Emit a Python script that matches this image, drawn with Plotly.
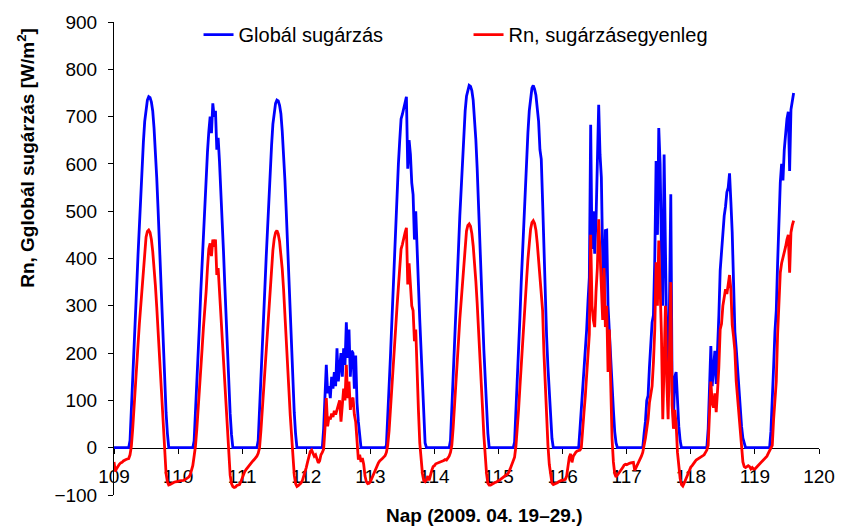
import plotly.graph_objects as go

# ---- data (half-hourly samples, 48 per day) ----
STEPS_PER_DAY = 48
days = [109, 110, 111, 112, 113, 114, 115, 116, 117, 118, 119]

glob_109 = [0]*12 + [15, 74, 141, 200, 267, 341, 408, 475, 534, 594, 646, 690, 720, 735, 742, 740,
                     731, 712, 675, 631, 571, 505, 430, 356, 275, 200, 134, 74, 30, 0] + [0]*6
rn_109 = [-30, -50, -44, -38, -35, -32, -31, -28, -26, -25, -24, -23, -15, 3, 40, 80, 125, 172, 218, 262,
          302, 342, 385, 420, 445, 457, 460, 455, 440, 415, 383, 343, 298, 248, 195, 140, 82, 25, -20, -55,
          -72, -79, -78, -76, -74, -73, -72, -72]

glob_110 = [0]*12 + [14, 70, 135, 195, 260, 330, 395, 460, 520, 575, 625, 668, 700, 665, 728, 700,
                     712, 630, 655, 605, 550, 485, 415, 343, 265, 193, 129, 72, 28, 0] + [0]*6
rn_110 = [-71, -70, -70, -69, -69, -68, -66, -64, -62, -58, -50, -38, -18, 3, 38, 76, 120, 165, 210, 255,
          290, 330, 380, 420, 432, 405, 440, 425, 440, 365, 380, 330, 285, 238, 188, 135, 78, 22, -22, -58,
          -76, -82, -84, -83, -80, -79, -78, -72]

glob_111 = [0]*12 + [15, 74, 140, 198, 265, 338, 404, 470, 529, 588, 639, 684, 713, 728, 735, 733,
                     724, 706, 669, 625, 566, 500, 426, 353, 272, 198, 132, 74, 29, 0] + [0]*6
rn_111 = [-64, -56, -50, -46, -42, -38, -35, -32, -28, -25, -22, -18, -12, 0, 35, 76, 122, 170, 215, 260,
          300, 340, 382, 417, 442, 455, 459, 452, 436, 410, 378, 335, 288, 235, 180, 122, 68, 18, -25, -58,
          -76, -82, -80, -78, -75, -70, -62, -52]

glob_112 = [0]*12 + [0, 40, 110, 175, 115, 130, 105, 150, 125, 160, 130, 210, 140, 165, 200, 150,
                     210, 175, 265, 190, 250, 150, 205, 200, 125, 195, 95, 55, 20, 0] + [0]*6
rn_112 = [-42, -30, -18, -8, -5, -10, -18, -15, -25, -32, -28, -15, -10, -3, 40, 105, 45, 65, 60, 72,
          65, 78, 70, 82, 88, 100, 55, 95, 125, 100, 175, 105, 140, 80, 100, 106, 70, 55, 15, -25,
          -15, -30, -22, -35, -60, -72, -76, -75]

glob_113 = [0]*12 + [5, 60, 125, 190, 260, 335, 410, 470, 540, 600, 650, 695, 705, 720, 735, 742,
                     590, 650, 620, 560, 535, 440, 500, 400, 345, 270, 210, 140, 70, 10] + [0]*6
rn_113 = [-72, -65, -58, -52, -45, -38, -32, -28, -26, -23, -20, -17, -10, 5, 35, 75, 120, 165, 210, 255,
          300, 345, 390, 420, 430, 445, 455, 465, 345, 390, 350, 300, 290, 225, 250, 150, 80, 10, -30, -55,
          -70, -72, -68, -60, -69, -55, -48, -40]

glob_114 = [0]*12 + [15, 77, 146, 207, 276, 352, 421, 490, 552, 613, 666, 712, 743, 758, 766, 764,
                     755, 735, 697, 651, 590, 521, 444, 368, 283, 207, 138, 77, 31, 0] + [0]*6
rn_114 = [-38, -34, -33, -32, -31, -30, -28, -27, -25, -26, -22, -18, -10, 5, 42, 82, 128, 178, 225, 272,
          312, 352, 397, 433, 458, 470, 473, 468, 453, 427, 394, 352, 305, 255, 200, 143, 84, 26, -20, -55,
          -75, -79, -79, -77, -75, -74, -73, -72]

glob_115 = [0]*12 + [12, 70, 140, 205, 275, 350, 420, 490, 552, 613, 666, 712, 745, 760, 766, 758,
                     745, 720, 690, 630, 610, 520, 420, 310, 235, 170, 110, 60, 20, 0] + [0]*6
rn_115 = [-70, -68, -66, -64, -62, -60, -58, -55, -50, -42, -37, -30, -20, 3, 38, 80, 128, 178, 225, 272,
          315, 355, 398, 435, 462, 476, 480, 474, 460, 432, 400, 355, 340, 290, 200, 120, 60, 5, -35, -62,
          -75, -78, -77, -75, -74, -72, -70, -69]

glob_116 = [0]*12 + [0, 40, 80, 120, 152, 190, 250, 310, 360, 683, 420, 500, 410, 480, 600, 725,
                     620, 571, 400, 310, 459, 460, 300, 240, 175, 120, 80, 34, 10, 0] + [0]*6
rn_116 = [-69, -68, -67, -60, -40, -20, -13, -31, -18, -12, -9, -7, -6, -5, 0, 30, 75, 110, 150, 200,
          240, 450, 300, 270, 255, 330, 380, 483, 420, 330, 270, 380, 255, 300, 160, 250, 110, 20, -30, -55,
          -62, -58, -55, -52, -48, -42, -37, -35]

glob_117 = [0]*12 + [0, 30, 55, 100, 110, 170, 230, 265, 280, 400, 606, 450, 676, 600, 420, 300,
                     620, 400, 220, 160, 300, 536, 120, 60, 150, 160, 90, 45, 15, 0] + [0]*6
rn_117 = [-36, -34, -33, -32, -31, -31, -48, -42, -38, -30, -24, -18, -10, 2, 20, 40, 60, 95, 110, 130,
          180, 250, 392, 300, 438, 350, 240, 60, 215, 300, 140, 60, 200, 350, 90, 40, 80, 50, -10, -40,
          -65, -78, -81, -75, -68, -62, -52, -45]

glob_118 = [0]*12 + [0, 40, 120, 215, 130, 175, 205, 135, 200, 280, 375, 420, 455, 490, 510, 540,
                     550, 580, 520, 455, 350, 245, 210, 170, 110, 80, 45, 20, 8, 0] + [0]*6
rn_118 = [-41, -38, -35, -30, -26, -24, -22, -20, -18, -17, -15, -10, -5, 5, 60, 140, 95, 85, 115, 75,
          120, 170, 250, 262, 300, 320, 335, 325, 345, 365, 335, 260, 235, 205, 140, 105, 60, 25, 0, -30,
          -40, -42, -40, -38, -40, -45, -42, -45]

glob_119 = [0]*12 + [35, 90, 170, 245, 290, 390, 480, 560, 600, 565, 630, 665, 695, 710, 585, 715,
                     735, 750]
rn_119 = [-45, -42, -40, -38, -35, -30, -27, -25, -22, -18, -12, -6, -2, 5, 60, 100, 140, 240, 300, 370,
          390, 400, 410, 425, 440, 450, 370, 455, 470, 480]

glob_days = [glob_109, glob_110, glob_111, glob_112, glob_113, glob_114,
             glob_115, glob_116, glob_117, glob_118, glob_119]
rn_days = [rn_109, rn_110, rn_111, rn_112, rn_113, rn_114,
           rn_115, rn_116, rn_117, rn_118, rn_119]

x_tick_values = [109, 110, 111, 112, 113, 114, 115, 116, 117, 118, 119, 120]
y_tick_values = [-100, 0, 100, 200, 300, 400, 500, 600, 700, 800, 900]


def build(series_days):
    xs, ys = [], []
    for d, vals in zip(days, series_days):
        for i, v in enumerate(vals):
            xs.append(d + i / STEPS_PER_DAY)
            ys.append(v)
    return xs, ys


gx, gy = build(glob_days)
rx, ry = build(rn_days)

FONT = "Liberation Sans, Arial, sans-serif"

fig = go.Figure()
fig.add_trace(go.Scatter(x=gx, y=gy, mode="lines", name="Globál sugárzás",
                         line=dict(color="#0000FF", width=2.8)))
fig.add_trace(go.Scatter(x=rx, y=ry, mode="lines", name="Rn, sugárzásegyenleg",
                         line=dict(color="#FF0000", width=2.8)))

fig.update_layout(
    width=847, height=526,
    margin=dict(l=114, r=17, t=18, b=31),
    paper_bgcolor="white", plot_bgcolor="white",
    font=dict(family=FONT, size=19, color="black"),
    showlegend=True,
    legend=dict(orientation="h", x=0.1199, xanchor="left", y=1.0147, yanchor="top",
                font=dict(size=20, family=FONT, color="black"),
                bgcolor="rgba(0,0,0,0)", entrywidth=225, entrywidthmode="pixels"),
    xaxis=dict(range=[109, 120], tickmode="array", tickvals=x_tick_values,
               ticks="outside", ticklen=5, tickcolor="black", tickwidth=1,
               showline=True, linecolor="black", linewidth=1,
               anchor="free", position=0.1, showgrid=False, zeroline=False,
               layer="below traces", ticklabelstandoff=6,
               tickfont=dict(size=19, family=FONT, color="black")),
    yaxis=dict(range=[-100, 900], tickmode="array", tickvals=y_tick_values,
               ticks="outside", ticklen=5, tickcolor="black", tickwidth=1,
               showline=True, linecolor="black", linewidth=1,
               showgrid=False, zeroline=False, domain=[0, 1],
               layer="below traces", ticklabelstandoff=7,
               tickfont=dict(size=19, family=FONT, color="black")),
    annotations=[
        dict(text="<b>Rn, Gglobál sugárzás [W/m<sup>2</sup>]</b>", xref="paper", yref="paper",
             x=-0.1247, y=0.713, xanchor="center", yanchor="middle", textangle=-90,
             showarrow=False, font=dict(size=19, family=FONT, color="black")),
        dict(text="<b>Nap (2009. 04. 19–29.)</b>", xref="paper", yref="paper",
             x=0.5247, y=-0.044, xanchor="center", yanchor="middle",
             showarrow=False, font=dict(size=19, family=FONT, color="black")),
    ],
)

fig.write_html("out.html")
